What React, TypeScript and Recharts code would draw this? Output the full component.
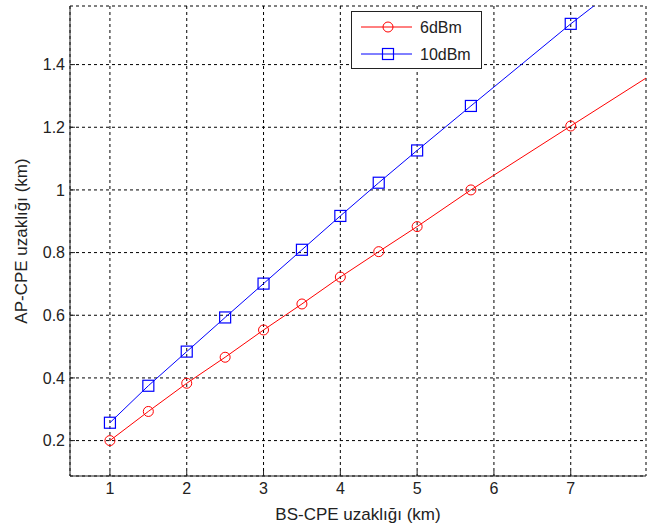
import { LineChart, Line, XAxis, YAxis, CartesianGrid, Legend, Label } from "recharts";

// x positions of the measurement points; the last one only carries the line out to the frame
const distBS = [1, 1.5, 2, 2.5, 3, 3.5, 4, 4.5, 5, 5.7, 7, 8];
const ap6dBm = [0.2, 0.293, 0.383, 0.466, 0.553, 0.636, 0.722, 0.803, 0.883, 1.0, 1.204, 1.36];
const ap10dBm = [0.257, 0.375, 0.484, 0.593, 0.701, 0.809, 0.917, 1.023, 1.126, 1.268, 1.53, 1.72];
const markedPoints = 11;

const xTicks = [1, 2, 3, 4, 5, 6, 7];
const yTicks = [0.2, 0.4, 0.6, 0.8, 1, 1.2, 1.4];
const xDomain = [0.48, 7.98];
const yDomain = [0.087, 1.587];

const data = distBS.map((x, i) => ({ x, a: ap6dBm[i], b: ap10dBm[i] }));

const FONT = "'Liberation Sans', Arial, sans-serif";
const TEXT = "#222";

const series = [
  { key: "a", name: "6dBm", color: "#ff0000", shape: "circle" },
  { key: "b", name: "10dBm", color: "#0000ff", shape: "square" },
];

function Marker({ cx, cy, color, shape }: any) {
  if (shape === "circle") {
    return <circle cx={cx} cy={cy} r={5} fill="none" stroke={color} strokeWidth={1} />;
  }
  return <rect x={cx - 5.5} y={cy - 5.5} width={11} height={11} fill="none" stroke={color} strokeWidth={1.2} />;
}

function makeDot(color: string, shape: string) {
  return (props: any) => {
    const { cx, cy, index } = props;
    if (index >= markedPoints) return <g key={`d-${index}`} />;
    return (
      <g key={`d-${index}`}>
        <Marker cx={cx} cy={cy} color={color} shape={shape} />
      </g>
    );
  };
}

function LegendBox() {
  return (
    <div
      style={{
        width: 131,
        height: 58,
        border: "1px solid #222",
        background: "#fff",
        boxSizing: "border-box",
      }}
    >
      <svg width={129} height={56} style={{ display: "block" }}>
        {series.map((s, i) => {
          const y = 15 + i * 27;
          return (
            <g key={s.key}>
              <line x1={9} x2={60} y1={y} y2={y} stroke={s.color} strokeWidth={1} />
              <Marker cx={36} cy={y} color={s.color} shape={s.shape} />
              <text x={68} y={y + 6} fontSize={16} fill={TEXT} fontFamily={FONT}>
                {s.name}
              </text>
            </g>
          );
        })}
      </svg>
    </div>
  );
}

function XLabel({ viewBox }: any) {
  const { x, y, width } = viewBox;
  return (
    <text x={x + width / 2} y={y + 44} textAnchor="middle" fontSize={17} fill={TEXT} fontFamily={FONT}>
      BS-CPE uzaklığı (km)
    </text>
  );
}

function YLabel({ viewBox }: any) {
  const { x, y, height } = viewBox;
  const lx = x + 17;
  const ly = y + height / 2;
  return (
    <text
      x={lx}
      y={ly}
      transform={`rotate(-90 ${lx} ${ly})`}
      textAnchor="middle"
      fontSize={17}
      fill={TEXT}
      fontFamily={FONT}
    >
      AP-CPE uzaklığı (km)
    </text>
  );
}

export default function App() {
  const tickStyle = { fontSize: 16, fill: TEXT, fontFamily: FONT };
  return (
    <div style={{ position: "absolute", left: 0, top: 0, width: 658, height: 526, background: "#fff" }}>
      <LineChart width={658} height={526} data={data} margin={{ top: 6, right: 12, bottom: 20, left: 10 }}>
        <CartesianGrid stroke="#000" strokeDasharray="3 3" strokeWidth={1} />
        <XAxis
          dataKey="x"
          type="number"
          domain={xDomain}
          ticks={xTicks}
          allowDataOverflow
          height={30}
          tickSize={-5}
          tickMargin={12}
          tick={tickStyle}
          stroke="#222"
        >
          <Label content={<XLabel />} />
        </XAxis>
        <XAxis
          xAxisId="top"
          dataKey="x"
          type="number"
          orientation="top"
          domain={xDomain}
          ticks={xTicks}
          allowDataOverflow
          height={0}
          tickSize={-5}
          tick={false}
          stroke="#222"
        />
        <YAxis
          type="number"
          domain={yDomain}
          ticks={yTicks}
          allowDataOverflow
          width={60}
          tickSize={-5}
          tickMargin={10}
          tick={tickStyle}
          stroke="#222"
        >
          <Label content={<YLabel />} />
        </YAxis>
        <YAxis
          yAxisId="right"
          type="number"
          orientation="right"
          domain={yDomain}
          ticks={yTicks}
          allowDataOverflow
          width={0}
          tickSize={-5}
          tick={false}
          stroke="#222"
        />
        <Legend
          content={<LegendBox />}
          verticalAlign="middle"
          align="center"
          wrapperStyle={{ left: 351, top: 11, width: 131, height: 58 }}
        />
        {series.map((s) => (
          <Line
            key={s.key}
            dataKey={s.key}
            name={s.name}
            type="linear"
            stroke={s.color}
            strokeWidth={1}
            dot={makeDot(s.color, s.shape)}
            activeDot={false}
            isAnimationActive={false}
          />
        ))}
      </LineChart>
    </div>
  );
}
